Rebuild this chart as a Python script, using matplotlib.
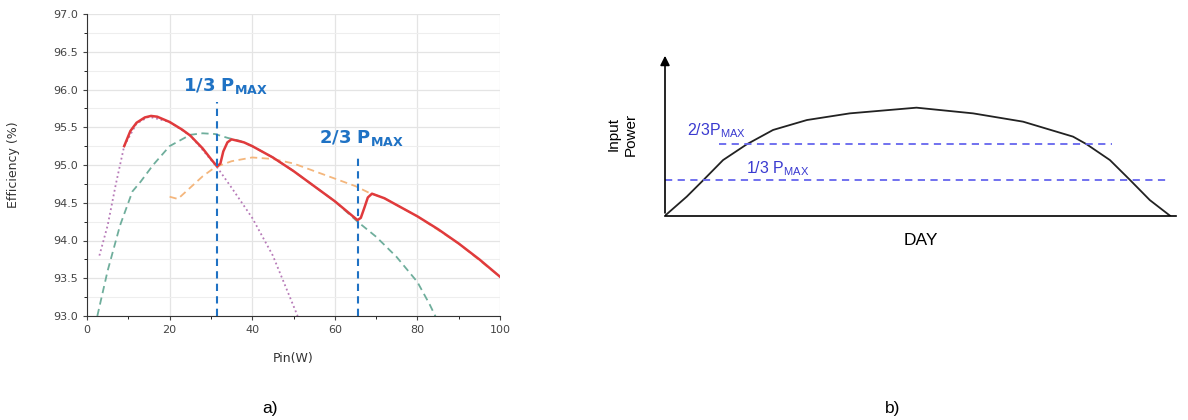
import matplotlib
matplotlib.use('Agg')
import matplotlib.pyplot as plt
from matplotlib.ticker import MultipleLocator, FormatStrFormatter

# --- panel a) efficiency curves (Pin in W, efficiency in %) ---
red_x = [9, 10.5, 12, 14, 15.5, 17, 20, 23, 25, 28, 30, 31.5, 32.3, 33, 34, 35, 38, 40,
         45, 50, 55, 60, 65.5, 66.3, 67.2, 68, 69, 72, 76, 80, 85, 90, 95, 100]
red_y = [95.25, 95.45, 95.56, 95.63, 95.65, 95.64, 95.57, 95.47, 95.39, 95.22, 95.08, 94.98,
         95.02, 95.18, 95.3, 95.34, 95.3, 95.25, 95.1, 94.92, 94.72, 94.52, 94.27, 94.3,
         94.44, 94.57, 94.62, 94.56, 94.44, 94.32, 94.15, 93.96, 93.75, 93.52]

green_x = [2.5, 5, 8, 11, 13, 16, 20, 25, 28, 31, 34, 37, 40, 45, 50, 55, 60, 65.5, 70, 75, 80, 83, 84.5]
green_y = [93.0, 93.6, 94.2, 94.65, 94.78, 95.0, 95.25, 95.4, 95.42, 95.41, 95.36, 95.32, 95.25,
           95.1, 94.92, 94.72, 94.52, 94.25, 94.05, 93.78, 93.45, 93.15, 92.98]

orange_x = [20, 22, 25, 28, 31, 35, 40, 45, 50, 55, 60, 65, 68, 72, 80, 90, 100]
orange_y = [94.58, 94.55, 94.7, 94.85, 94.97, 95.05, 95.1, 95.08, 95.02, 94.92, 94.82, 94.72,
            94.64, 94.56, 94.32, 93.96, 93.52]

purple_x = [3, 5, 7, 9, 12, 15, 20, 25, 28, 31.5, 35, 40, 45, 48, 51]
purple_y = [93.8, 94.2, 94.75, 95.25, 95.55, 95.64, 95.57, 95.39, 95.2, 94.97, 94.7, 94.3, 93.8,
            93.4, 93.0]

marker_x = [31.5, 65.5]
marker_top = [95.83, 95.13]
marker_labels = ['1/3 P$_{\\mathbf{MAX}}$', '2/3 P$_{\\mathbf{MAX}}$']
label_pos = [(33.5, 95.92), (66.5, 95.22)]

# --- panel b) input power over the day (normalised) ---
day_t = [0, 0.043, 0.076, 0.115, 0.162, 0.214, 0.281, 0.366, 0.498, 0.610, 0.709, 0.808,
         0.835, 0.881, 0.921, 0.960, 1.0]
day_p = [0, 0.117, 0.219, 0.342, 0.439, 0.527, 0.588, 0.629, 0.664, 0.629, 0.578, 0.486,
         0.439, 0.342, 0.219, 0.096, 0]
level_23 = 0.439
level_13 = 0.219
span_23 = (0.106, 0.885)
span_13 = (0.0, 1.0)

fig = plt.figure(figsize=(11.88, 4.2), dpi=100)

# Panel a
ax = fig.add_axes([87 / 1188, 1 - 316 / 420, 413 / 1188, 302 / 420])
ax.plot(purple_x, purple_y, color='#b77ab8', lw=1.3, ls=(0, (1, 1.6)))
ax.plot(green_x, green_y, color='#6fae9c', lw=1.3, ls=(0, (4, 2.5)))
ax.plot(orange_x, orange_y, color='#f4b67c', lw=1.3, ls=(0, (4, 2.5)))
ax.plot(red_x, red_y, color='#e03a3c', lw=1.8)
for xv, top in zip(marker_x, marker_top):
    ax.plot([xv, xv], [93.0, top], color='#1f72c4', lw=1.5, ls=(0, (3.5, 2.5)))
for lab, (lx, ly) in zip(marker_labels, label_pos):
    ax.text(lx, ly, lab, color='#1f72c4', fontsize=13, fontweight='bold', ha='center', va='bottom')

ax.set_xlim(0, 100)
ax.set_ylim(93.0, 97.0)
ax.xaxis.set_major_locator(MultipleLocator(20))
ax.xaxis.set_minor_locator(MultipleLocator(10))
ax.yaxis.set_major_locator(MultipleLocator(0.5))
ax.yaxis.set_minor_locator(MultipleLocator(0.25))
ax.yaxis.set_major_formatter(FormatStrFormatter('%.1f'))
ax.grid(True, which='major', color='#e4e4e4', lw=0.9)
ax.grid(True, which='minor', axis='y', color='#eeeeee', lw=0.8)
ax.set_axisbelow(True)
for s in ['top', 'right']:
    ax.spines[s].set_visible(False)
for s in ['left', 'bottom']:
    ax.spines[s].set_color('#333333')
ax.tick_params(labelsize=8, colors='#444444', direction='out', length=3)
ax.tick_params(which='minor', length=2)
ax.set_xlabel('Pin(W)', fontsize=9, color='#333333', labelpad=12)
ax.set_ylabel('Efficiency (%)', fontsize=9, color='#333333', labelpad=24)

# Panel b
bx = fig.add_axes([665 / 1188, 1 - 215.7 / 420, 511 / 1188, 162.7 / 420])
bx.plot(day_t, day_p, color='#222222', lw=1.3)
bx.plot(span_23, [level_23, level_23], color='#6666ee', lw=1.3, ls=(0, (4, 3)))
bx.plot(span_13, [level_13, level_13], color='#6666ee', lw=1.3, ls=(0, (4, 3)))
bx.text(0.043, level_23 + 0.025, '2/3P$_{\\mathregular{MAX}}$', color='#3a3ad0', fontsize=11.5,
        family='Liberation Sans', va='bottom')
bx.text(0.16, level_13 + 0.015, '1/3 P$_{\\mathregular{MAX}}$', color='#3a3ad0', fontsize=11.5,
        family='Liberation Sans', va='bottom')
bx.set_xlim(0, 511 / 505)
bx.set_ylim(0, 1.0)
bx.set_xticks([])
bx.set_yticks([])
for s in ['top', 'right', 'left']:
    bx.spines[s].set_visible(False)
bx.spines['bottom'].set_color('black')
bx.spines['bottom'].set_linewidth(1.2)
bx.annotate('', xy=(0, 1.0), xytext=(0, 0), xycoords='axes fraction',
            arrowprops=dict(arrowstyle='-|>', color='black', lw=1.2, mutation_scale=14))
bx.text(-0.084, 0.5, 'Input\nPower', rotation=90, ha='center', va='center',
        transform=bx.transAxes, fontsize=11, family='Liberation Sans', linespacing=1.25)
bx.text(0.5, -0.15, 'DAY', transform=bx.transAxes, ha='center', va='center',
        fontsize=12.5, family='Liberation Sans')

fig.text(270 / 1188, 1 - 408 / 420, 'a)', ha='center', va='center', fontsize=12.5, family='Liberation Sans')
fig.text(893 / 1188, 1 - 408 / 420, 'b)', ha='center', va='center', fontsize=12.5, family='Liberation Sans')

fig.savefig('out.png', dpi=100, facecolor='white')
